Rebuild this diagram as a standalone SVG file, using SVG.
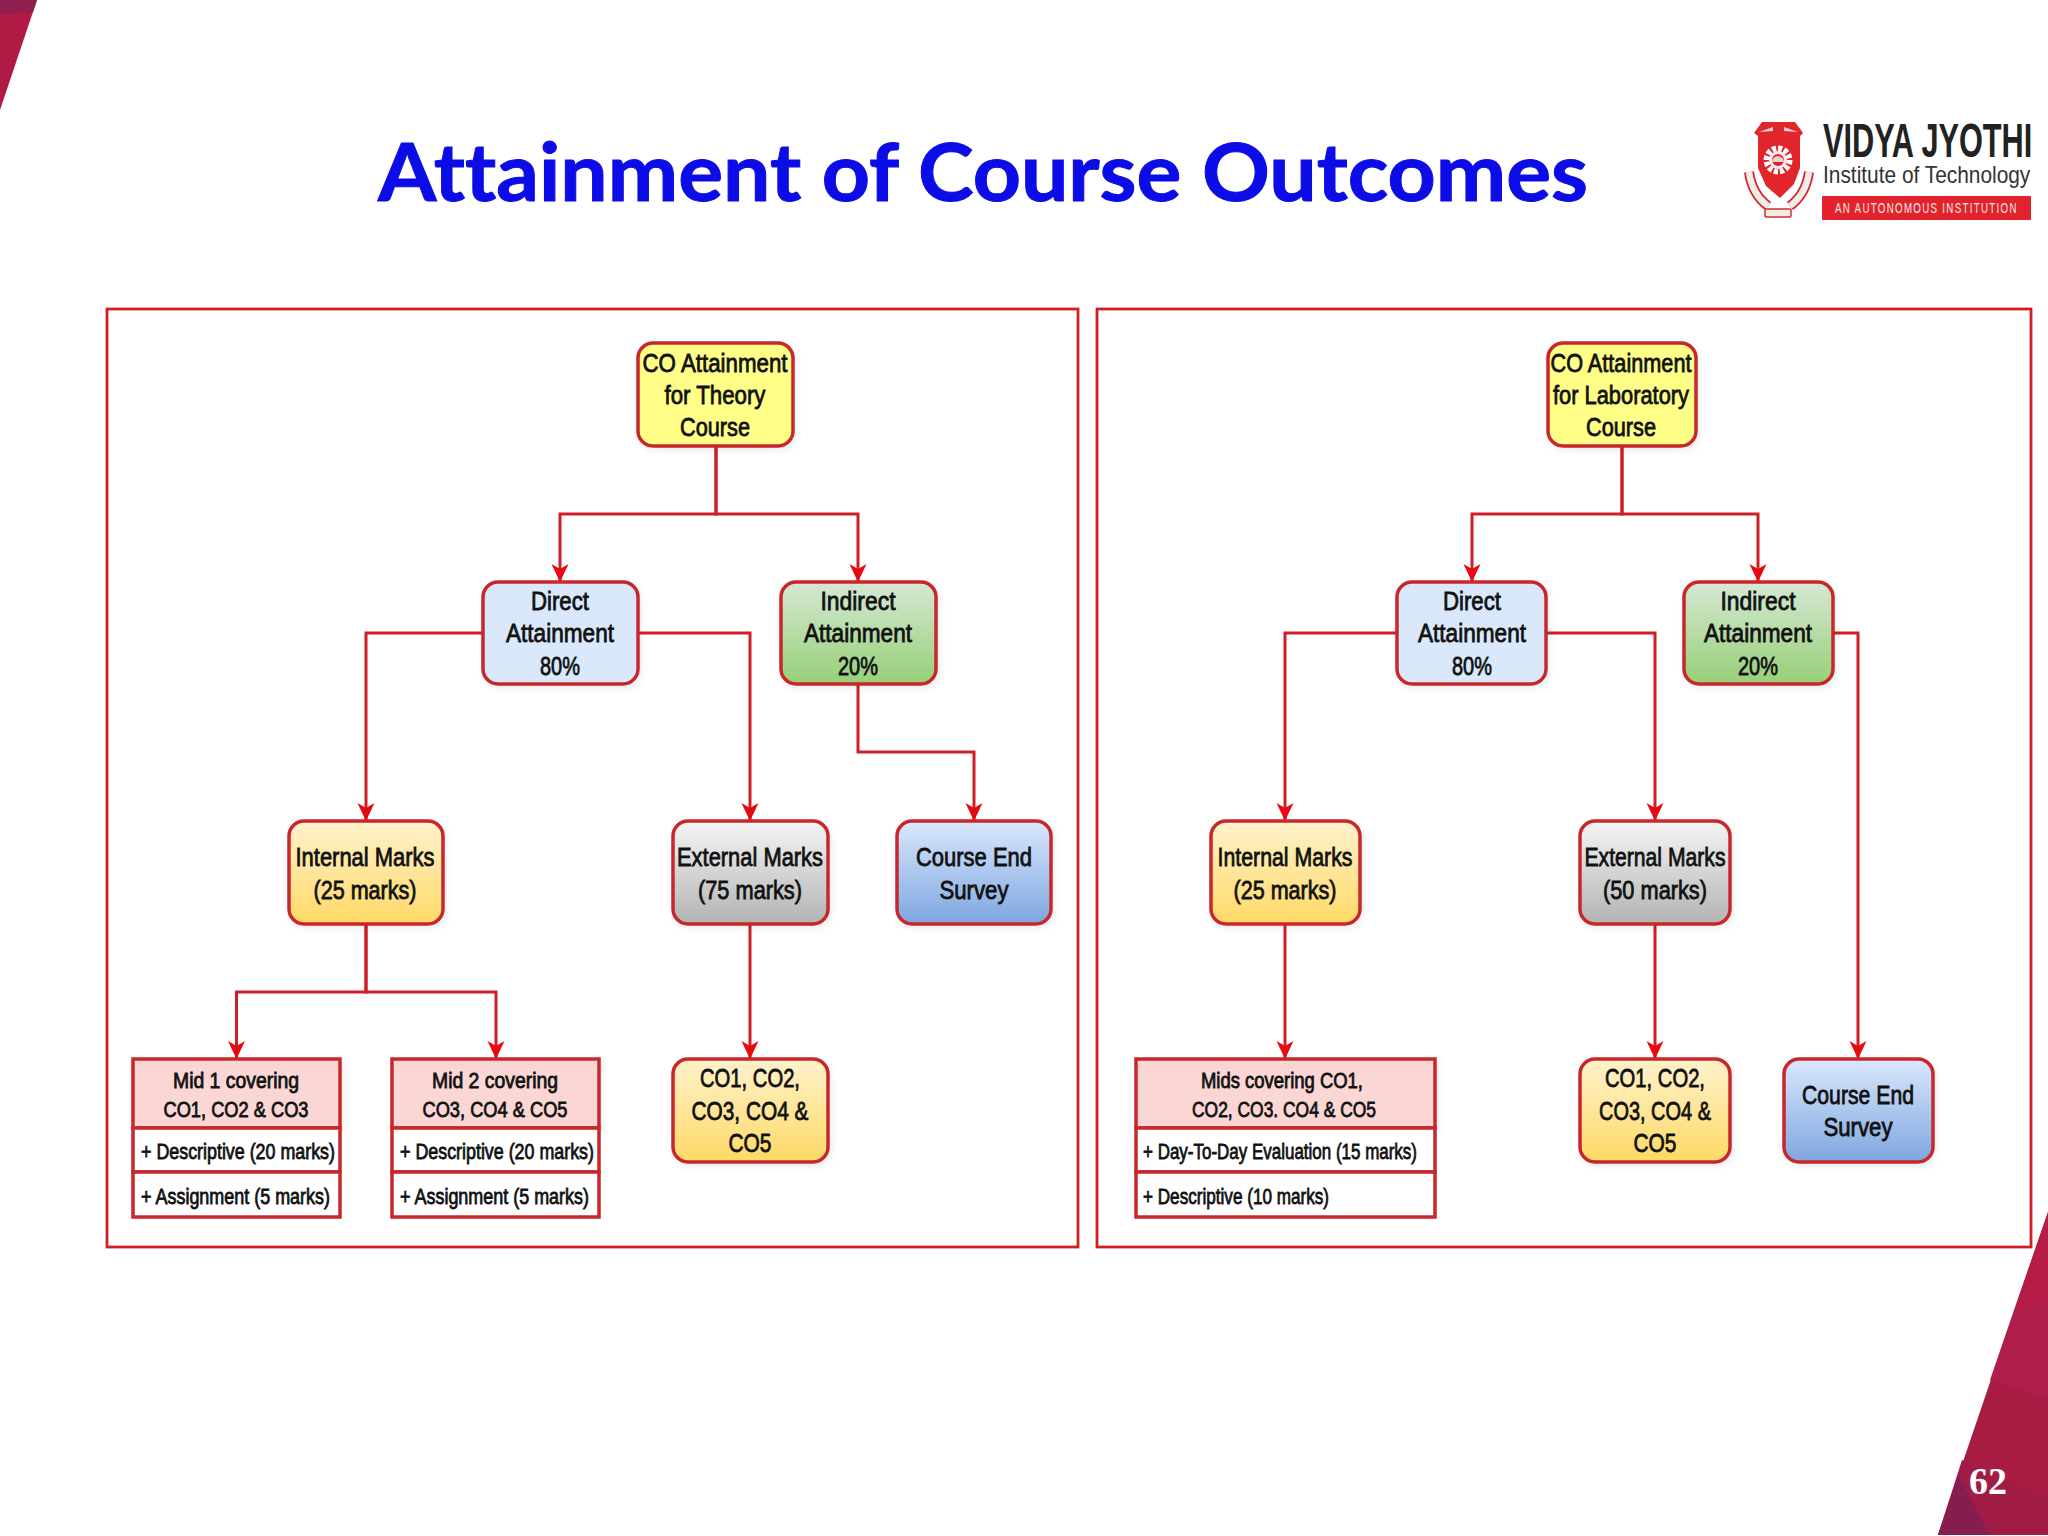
<svg xmlns="http://www.w3.org/2000/svg" width="2048" height="1536" viewBox="0 0 2048 1536">
<style>
.n{stroke:#c8282c;stroke-width:3.5}
.f{fill:none;stroke:#d01f22;stroke-width:2.800}
.c{fill:none;stroke:#cf1f24;stroke-width:3}
text{font-family:"Liberation Sans",Arial,sans-serif;fill:#111;text-anchor:middle;stroke:#111;stroke-width:.8}
.l{font-size:26.5px}
.s{font-size:22px}
.a{text-anchor:start}
.logo{stroke:none;text-anchor:start}
</style>
<defs>
<marker id="arrow" markerUnits="userSpaceOnUse" markerWidth="20" markerHeight="20" refX="18" refY="8.5" orient="auto">
<path d="M0 0 L18 8.5 L0 17 L5 8.5 Z" fill="#e8080f"/>
</marker>
<filter id="soft" x="-5%" y="-5%" width="115%" height="115%"><feDropShadow dx="2" dy="3" stdDeviation="3" flood-color="#000" flood-opacity=".07"/></filter>
<linearGradient id="gGreen" x1="0" y1="0" x2="0" y2="1"><stop offset="0" stop-color="#d5e8d4"/><stop offset="1" stop-color="#97d077"/></linearGradient>
<linearGradient id="gOrange" x1="0" y1="0" x2="0" y2="1"><stop offset="0" stop-color="#fff2cc"/><stop offset="1" stop-color="#ffd966"/></linearGradient>
<linearGradient id="gGrey" x1="0" y1="0" x2="0" y2="1"><stop offset="0" stop-color="#f5f5f5"/><stop offset="1" stop-color="#b3b3b3"/></linearGradient>
<linearGradient id="gBlue" x1="0" y1="0" x2="0" y2="1"><stop offset="0" stop-color="#dae8fc"/><stop offset="1" stop-color="#7ea6e0"/></linearGradient>
</defs>
<rect width="2048" height="1536" fill="#fff"/>
<g id="corner-top-left">
<polygon points="0,0 37,0 0,110" fill="#b01a45"/>
<polygon points="0,0 37,0 33,12 0,14" fill="#8e1f4e"/>
</g>
<g id="corner-bottom-right">
<polygon points="2048,1212 2048,1535 1938,1535" fill="#a81c44"/>
<polygon points="2048,1212 2048,1300 2014,1310" fill="#b51c46"/>
<polygon points="2014,1310 2048,1300 2048,1400 1990,1380" fill="#ae1e4a"/>
<polygon points="1938,1535 1962,1460 2048,1500 2048,1535" fill="#a01c45"/>
<polygon points="1938,1535 1958,1475 1990,1535" fill="#851d50"/>
<text x="1988" y="1494" style="font-family:'Liberation Serif',serif;font-weight:700;font-size:38px;fill:#fff;stroke:none">62</text>
</g>
<text id="title" x="983" y="201" textLength="1210" lengthAdjust="spacingAndGlyphs" style="font-family:Lato,sans-serif;font-weight:700;font-size:80px;font-variant-ligatures:none;fill:#0c0ce6;stroke:#0c0ce6;stroke-width:1">Attainment of Course Outcomes</text>
<g id="logo">
<path d="M1749 172 Q1752 194 1768 206" fill="none" stroke="#d8242c" stroke-width="10"/>
<path d="M1749 172 Q1752 194 1768 206" fill="none" stroke="#f1ece6" stroke-width="6.500"/>
<path d="M1809 172 Q1806 194 1790 206" fill="none" stroke="#d8242c" stroke-width="10"/>
<path d="M1809 172 Q1806 194 1790 206" fill="none" stroke="#f1ece6" stroke-width="6.500"/>
<path d="M1762 122 L1795 122 L1803 133 L1800 136 L1800 168 L1794 184 L1780 198 L1766 186 L1758 168 L1758 136 L1754 133 Z" fill="#e0252b"/>
<path d="M1759 132 L1773 127 L1773 131 Z M1784 131 L1784 127 L1798 132 Z" fill="#f8d0d0"/>
<circle cx="1778" cy="160" r="11.500" fill="none" stroke="#fff" stroke-width="6" stroke-dasharray="4 2"/>
<circle cx="1778" cy="160" r="9" fill="#fbeaea"/>
<circle cx="1778" cy="160" r="6" fill="#d8242c"/>
<path d="M1772 162 A6 6 0 0 1 1784 162 Z" fill="#f6d0d0"/>
<rect x="1765" y="209" width="26" height="8" rx="1" fill="#f5ece6" stroke="#cc3030" stroke-width="1.500"/>
<text class="logo" transform="translate(1823 157) scale(.64 1)" style="font-weight:700;font-size:48px;fill:#222">VIDYA JYOTHI</text>
<text class="logo" transform="translate(1823 183) scale(.87 1)" style="font-size:24px;fill:#333">Institute of Technology</text>
<rect x="1822" y="196" width="209" height="24" fill="#e3232c"/>
<text class="logo" transform="translate(1835 213) scale(.65 1)" style="font-size:15px;letter-spacing:2px;fill:#fbe9e9">AN AUTONOMOUS INSTITUTION</text>
</g>
<g id="frames">
<rect class="f" x="107" y="309" width="971" height="938"/>
<rect class="f" x="1097" y="309" width="934" height="938"/>
</g>
<g id="connectors" class="connectors">
<path class="c" marker-end="url(#arrow)" d="M716 446V514H560V582"/>
<path class="c" marker-end="url(#arrow)" d="M716 446V514H858V582"/>
<path class="c" marker-end="url(#arrow)" d="M483 633H366V821"/>
<path class="c" marker-end="url(#arrow)" d="M638 633H750V821"/>
<path class="c" marker-end="url(#arrow)" d="M858 684V752H974V821"/>
<path class="c" marker-end="url(#arrow)" d="M366 924V992H236.500V1059"/>
<path class="c" marker-end="url(#arrow)" d="M366 924V992H496V1059"/>
<path class="c" marker-end="url(#arrow)" d="M750 924V1059"/>
<path class="c" marker-end="url(#arrow)" d="M1622 446V514H1472V582"/>
<path class="c" marker-end="url(#arrow)" d="M1622 446V514H1758V582"/>
<path class="c" marker-end="url(#arrow)" d="M1397 633H1285V821"/>
<path class="c" marker-end="url(#arrow)" d="M1546 633H1655V821"/>
<path class="c" marker-end="url(#arrow)" d="M1833 633H1858V1059"/>
<path class="c" marker-end="url(#arrow)" d="M1285 924V1059"/>
<path class="c" marker-end="url(#arrow)" d="M1655 924V1059"/>
</g>
<g id="t-root"><rect class="n" filter="url(#soft)" x="638" y="343" width="155" height="103" rx="15" fill="#ffff88"/>
<text class="l" x="715" y="372" textLength="145" lengthAdjust="spacingAndGlyphs">CO Attainment</text>
<text class="l" x="715" y="404" textLength="101" lengthAdjust="spacingAndGlyphs">for Theory</text>
<text class="l" x="715" y="436" textLength="70" lengthAdjust="spacingAndGlyphs">Course</text></g>
<g id="t-direct"><rect class="n" filter="url(#soft)" x="483" y="582" width="155" height="102" rx="15" fill="#dae8fc"/>
<text class="l" x="560" y="610" textLength="58" lengthAdjust="spacingAndGlyphs">Direct</text>
<text class="l" x="560" y="642" textLength="108" lengthAdjust="spacingAndGlyphs">Attainment</text>
<text class="l" x="560" y="675" textLength="40" lengthAdjust="spacingAndGlyphs">80%</text></g>
<g id="t-indirect"><rect class="n" filter="url(#soft)" x="781" y="582" width="155" height="102" rx="15" fill="url(#gGreen)"/>
<text class="l" x="858" y="610" textLength="75" lengthAdjust="spacingAndGlyphs">Indirect</text>
<text class="l" x="858" y="642" textLength="108" lengthAdjust="spacingAndGlyphs">Attainment</text>
<text class="l" x="858" y="675" textLength="40" lengthAdjust="spacingAndGlyphs">20%</text></g>
<g id="t-internal"><rect class="n" filter="url(#soft)" x="289" y="821" width="154" height="103" rx="15" fill="url(#gOrange)"/>
<text class="l" x="365" y="866" textLength="139" lengthAdjust="spacingAndGlyphs">Internal Marks</text>
<text class="l" x="365" y="899" textLength="103" lengthAdjust="spacingAndGlyphs">(25 marks)</text></g>
<g id="t-external"><rect class="n" filter="url(#soft)" x="673" y="821" width="155" height="103" rx="15" fill="url(#gGrey)"/>
<text class="l" x="750" y="866" textLength="146" lengthAdjust="spacingAndGlyphs">External Marks</text>
<text class="l" x="750" y="899" textLength="104" lengthAdjust="spacingAndGlyphs">(75 marks)</text></g>
<g id="t-survey"><rect class="n" filter="url(#soft)" x="897" y="821" width="154" height="103" rx="15" fill="url(#gBlue)"/>
<text class="l" x="974" y="866" textLength="116" lengthAdjust="spacingAndGlyphs">Course End</text>
<text class="l" x="974" y="899" textLength="69" lengthAdjust="spacingAndGlyphs">Survey</text></g>
<g id="t-mid1"><rect class="n" filter="url(#soft)" x="133" y="1059" width="207" height="69" fill="#fad7d5"/>
<rect class="n" x="133" y="1128" width="207" height="44" fill="#fff"/><rect class="n" x="133" y="1172" width="207" height="45" fill="#fff"/>
<text class="s" x="236" y="1088" textLength="126" lengthAdjust="spacingAndGlyphs">Mid 1 covering</text>
<text class="s" x="236" y="1117" textLength="145" lengthAdjust="spacingAndGlyphs">CO1, CO2 &amp; CO3</text>
<text class="s a" x="141" y="1159" textLength="194" lengthAdjust="spacingAndGlyphs">+ Descriptive (20 marks)</text>
<text class="s a" x="141" y="1204" textLength="189" lengthAdjust="spacingAndGlyphs">+ Assignment (5 marks)</text></g>
<g id="t-mid2"><rect class="n" filter="url(#soft)" x="392" y="1059" width="207" height="69" fill="#fad7d5"/>
<rect class="n" x="392" y="1128" width="207" height="44" fill="#fff"/><rect class="n" x="392" y="1172" width="207" height="45" fill="#fff"/>
<text class="s" x="495" y="1088" textLength="126" lengthAdjust="spacingAndGlyphs">Mid 2 covering</text>
<text class="s" x="495" y="1117" textLength="145" lengthAdjust="spacingAndGlyphs">CO3, CO4 &amp; CO5</text>
<text class="s a" x="400" y="1159" textLength="194" lengthAdjust="spacingAndGlyphs">+ Descriptive (20 marks)</text>
<text class="s a" x="400" y="1204" textLength="189" lengthAdjust="spacingAndGlyphs">+ Assignment (5 marks)</text></g>
<g id="t-cos"><rect class="n" filter="url(#soft)" x="673" y="1059" width="155" height="103" rx="15" fill="url(#gOrange)"/>
<text class="l" x="750" y="1087" textLength="100" lengthAdjust="spacingAndGlyphs">CO1, CO2,</text>
<text class="l" x="750" y="1120" textLength="117" lengthAdjust="spacingAndGlyphs">CO3, CO4 &amp;</text>
<text class="l" x="750" y="1152" textLength="43" lengthAdjust="spacingAndGlyphs">CO5</text></g>
<g id="l-root"><rect class="n" filter="url(#soft)" x="1548" y="343" width="148" height="103" rx="15" fill="#ffff88"/>
<text class="l" x="1621" y="372" textLength="141" lengthAdjust="spacingAndGlyphs">CO Attainment</text>
<text class="l" x="1621" y="404" textLength="136" lengthAdjust="spacingAndGlyphs">for Laboratory</text>
<text class="l" x="1621" y="436" textLength="70" lengthAdjust="spacingAndGlyphs">Course</text></g>
<g id="l-direct"><rect class="n" filter="url(#soft)" x="1397" y="582" width="149" height="102" rx="15" fill="#dae8fc"/>
<text class="l" x="1472" y="610" textLength="58" lengthAdjust="spacingAndGlyphs">Direct</text>
<text class="l" x="1472" y="642" textLength="108" lengthAdjust="spacingAndGlyphs">Attainment</text>
<text class="l" x="1472" y="675" textLength="40" lengthAdjust="spacingAndGlyphs">80%</text></g>
<g id="l-indirect"><rect class="n" filter="url(#soft)" x="1684" y="582" width="149" height="102" rx="15" fill="url(#gGreen)"/>
<text class="l" x="1758" y="610" textLength="75" lengthAdjust="spacingAndGlyphs">Indirect</text>
<text class="l" x="1758" y="642" textLength="108" lengthAdjust="spacingAndGlyphs">Attainment</text>
<text class="l" x="1758" y="675" textLength="40" lengthAdjust="spacingAndGlyphs">20%</text></g>
<g id="l-internal"><rect class="n" filter="url(#soft)" x="1211" y="821" width="149" height="103" rx="15" fill="url(#gOrange)"/>
<text class="l" x="1285" y="866" textLength="135" lengthAdjust="spacingAndGlyphs">Internal Marks</text>
<text class="l" x="1285" y="899" textLength="103" lengthAdjust="spacingAndGlyphs">(25 marks)</text></g>
<g id="l-external"><rect class="n" filter="url(#soft)" x="1580" y="821" width="150" height="103" rx="15" fill="url(#gGrey)"/>
<text class="l" x="1655" y="866" textLength="141" lengthAdjust="spacingAndGlyphs">External Marks</text>
<text class="l" x="1655" y="899" textLength="104" lengthAdjust="spacingAndGlyphs">(50 marks)</text></g>
<g id="l-mids"><rect class="n" filter="url(#soft)" x="1136" y="1059" width="299" height="69" fill="#fad7d5"/>
<rect class="n" x="1136" y="1128" width="299" height="44" fill="#fff"/><rect class="n" x="1136" y="1172" width="299" height="45" fill="#fff"/>
<text class="s" x="1282" y="1088" textLength="162" lengthAdjust="spacingAndGlyphs">Mids covering CO1,</text>
<text class="s" x="1284" y="1117" textLength="184" lengthAdjust="spacingAndGlyphs">CO2, CO3. CO4 &amp; CO5</text>
<text class="s a" x="1143" y="1159" textLength="274" lengthAdjust="spacingAndGlyphs">+ Day-To-Day Evaluation (15 marks)</text>
<text class="s a" x="1143" y="1204" textLength="186" lengthAdjust="spacingAndGlyphs">+ Descriptive (10 marks)</text></g>
<g id="l-cos"><rect class="n" filter="url(#soft)" x="1580" y="1059" width="150" height="103" rx="15" fill="url(#gOrange)"/>
<text class="l" x="1655" y="1087" textLength="100" lengthAdjust="spacingAndGlyphs">CO1, CO2,</text>
<text class="l" x="1655" y="1120" textLength="112" lengthAdjust="spacingAndGlyphs">CO3, CO4 &amp;</text>
<text class="l" x="1655" y="1152" textLength="43" lengthAdjust="spacingAndGlyphs">CO5</text></g>
<g id="l-survey"><rect class="n" filter="url(#soft)" x="1784" y="1059" width="149" height="103" rx="15" fill="url(#gBlue)"/>
<text class="l" x="1858" y="1104" textLength="112" lengthAdjust="spacingAndGlyphs">Course End</text>
<text class="l" x="1858" y="1136" textLength="69" lengthAdjust="spacingAndGlyphs">Survey</text></g>
</svg>
